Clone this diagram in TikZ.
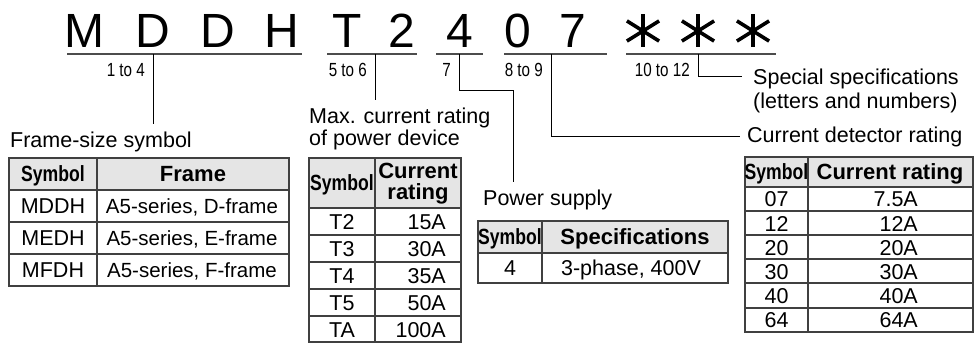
\documentclass[tikz,border=0pt]{standalone}
\usepackage{fontspec}
\setmainfont{Liberation Sans}
\newfontfamily\narrowfont[FakeStretch=0.8]{Liberation Sans}
\usetikzlibrary{positioning}

\tikzset{
  code/.style={font=\fontsize{48}{48}\selectfont, anchor=base, inner sep=0pt},
  bar/.style={draw=black!70, line width=1.5pt},
  tap/.style={draw=black, line width=1pt},
  astline/.style={line width=3.6pt},
  poslbl/.style={font=\narrowfont\fontsize{19}{19}\selectfont, anchor=east, inner sep=0pt},
  caption/.style={font=\fontsize{21.5}{22}\selectfont, anchor=west, align=left, inner xsep=0pt, inner ysep=8pt},
  cell/.style={font=\fontsize{21.5}{22}\selectfont, inner sep=0pt, text height=15.4pt, text depth=0pt},
  head/.style={cell, font=\bfseries\fontsize{22}{22}\selectfont},
  symhead/.style={cell, font=\narrowfont\bfseries\fontsize{22}{22}\selectfont},
  headtwo/.style={font=\bfseries\fontsize{22}{21}\selectfont, align=center, inner sep=0pt},
  grid/.style={draw=black!75, line width=1.2pt},
  headfill/.style={fill=black!10},
}

\begin{document}
\begin{tikzpicture}[x=1pt, y=-1pt]
  \useasboundingbox (0,0) rectangle (975,344);

  % model code
  \foreach \x/\c [count=\i] in {84/M,153/D,218/D,282/H,347/T,402/2,460/4,518/0,573/7} {
    \node[code] (ch\i) at (\x,48) {\c};
  }
  \foreach \x [count=\i] in {643,698,753} {
    \coordinate (ast\i) at (\x,31);
    \draw[astline] (ast\i) ++(0,-16.5) -- ++(0,33);
    \draw[astline] (ast\i) ++(32:19) -- ++(212:38);
    \draw[astline] (ast\i) ++(148:19) -- ++(328:38);
  }
  \foreach \a/\b in {67/302, 327/417, 436/483, 504/607, 626/776}
    \draw[bar] (\a,54) -- (\b,54);

  % digit positions
  \foreach \x/\txt [count=\i] in {153/1 to 4, 375/5 to 6, 459/7, 551/8 to 9, 698/10 to 12} {
    \coordinate (tap\i) at (\x,54);
    \node[poslbl] (pos\i) at (\x-8,70) {\txt};
  }

  % captions
  \node[caption] (lblframe) at (10,142) {Frame-size symbol};
  \node[caption] (lblmax) at (309,129) {Max. current rating\\of power device};
  \node[caption] (lblpow) at (483,200) {Power supply};
  \node[caption] (lbldet) at (747,137) {Current detector rating};
  \node[caption, font=\fontsize{21.5}{24}\selectfont] (lblspec) at (753,91) {Special specifications\\(letters and numbers)};

  \coordinate (bend3) at (513,91);
  \coordinate (specend) at (742,77);
  \draw[tap] (tap1) -- (tap1 |- lblframe.north);
  \draw[tap] (tap2) -- (tap2 |- lblmax.north);
  \draw[tap] (tap3) |- (bend3) -- (bend3 |- lblpow.north);
  \draw[tap] (tap4) |- ([xshift=-7pt]lbldet.west);
  \draw[tap] (tap5) |- (specend);

  % frame-size table
  \fill[headfill] (9,158) rectangle (289,190);
  \foreach \y in {190,222,254} \draw[grid] (9,\y) -- (289,\y);
  \draw[grid] (97,158) -- (97,286);
  \draw[grid] (9,158) rectangle (289,286);
  \node[symhead] (fsym) at (53,174) {Symbol};
  \node[head] (fhead) at (193,174) {Frame};
  \foreach \s/\f [count=\i] in {MDDH/D, MEDH/E, MFDH/F} {
    \node[cell] (fs\i) at (53,174+32*\i) {\s};
    \node[cell, font=\fontsize{20.5}{22}\selectfont] (ff\i) at (192,174+32*\i) {A5-series, \f-frame};
  }

  % current rating table
  \fill[headfill] (309,158) rectangle (461,208);
  \foreach \y in {208,235,262,289,316} \draw[grid] (309,\y) -- (461,\y);
  \draw[grid] (375,158) -- (375,342);
  \draw[grid] (309,158) rectangle (461,342);
  \node[symhead] (csym) at (342,183) {Symbol};
  \node[headtwo] (chead) at (418,184) {Current\\rating};
  \foreach \s/\a [count=\i] in {T2/15A, T3/30A, T4/35A, T5/50A, TA/100A} {
    \node[cell] (cs\i) at (342,194.5+27*\i) {\s};
    \node[cell, anchor=east] (ca\i) at (446,194.5+27*\i) {\a};
  }

  % power supply table
  \fill[headfill] (478,221) rectangle (728,253);
  \draw[grid] (478,253) -- (728,253);
  \draw[grid] (542,221) -- (542,283);
  \draw[grid] (478,221) rectangle (728,283);
  \node[symhead] (psym) at (510,237) {Symbol};
  \node[head] (phead) at (635,237) {Specifications};
  \node[cell] (ps1) at (510,268) {4};
  \node[cell] (pv1) at (631,268) {3-phase, 400V};

  % current detector table
  \fill[headfill] (745,157) rectangle (973,187);
  \foreach \y in {187,211,235,259,283,308} \draw[grid] (745,\y) -- (973,\y);
  \draw[grid] (808,157) -- (808,332);
  \draw[grid] (745,157) rectangle (973,332);
  \node[symhead] (dsym) at (776.5,172) {Symbol};
  \node[head] (dhead) at (890,172) {Current rating};
  \foreach \s/\a [count=\i] in {07/7.5A, 12/12A, 20/20A, 30/30A, 40/40A, 64/64A} {
    \node[cell] (ds\i) at (776.5,175+24.2*\i) {\s};
    \node[cell, anchor=east] (da\i) at (918,175+24.2*\i) {\a};
  }
\end{tikzpicture}
\end{document}
